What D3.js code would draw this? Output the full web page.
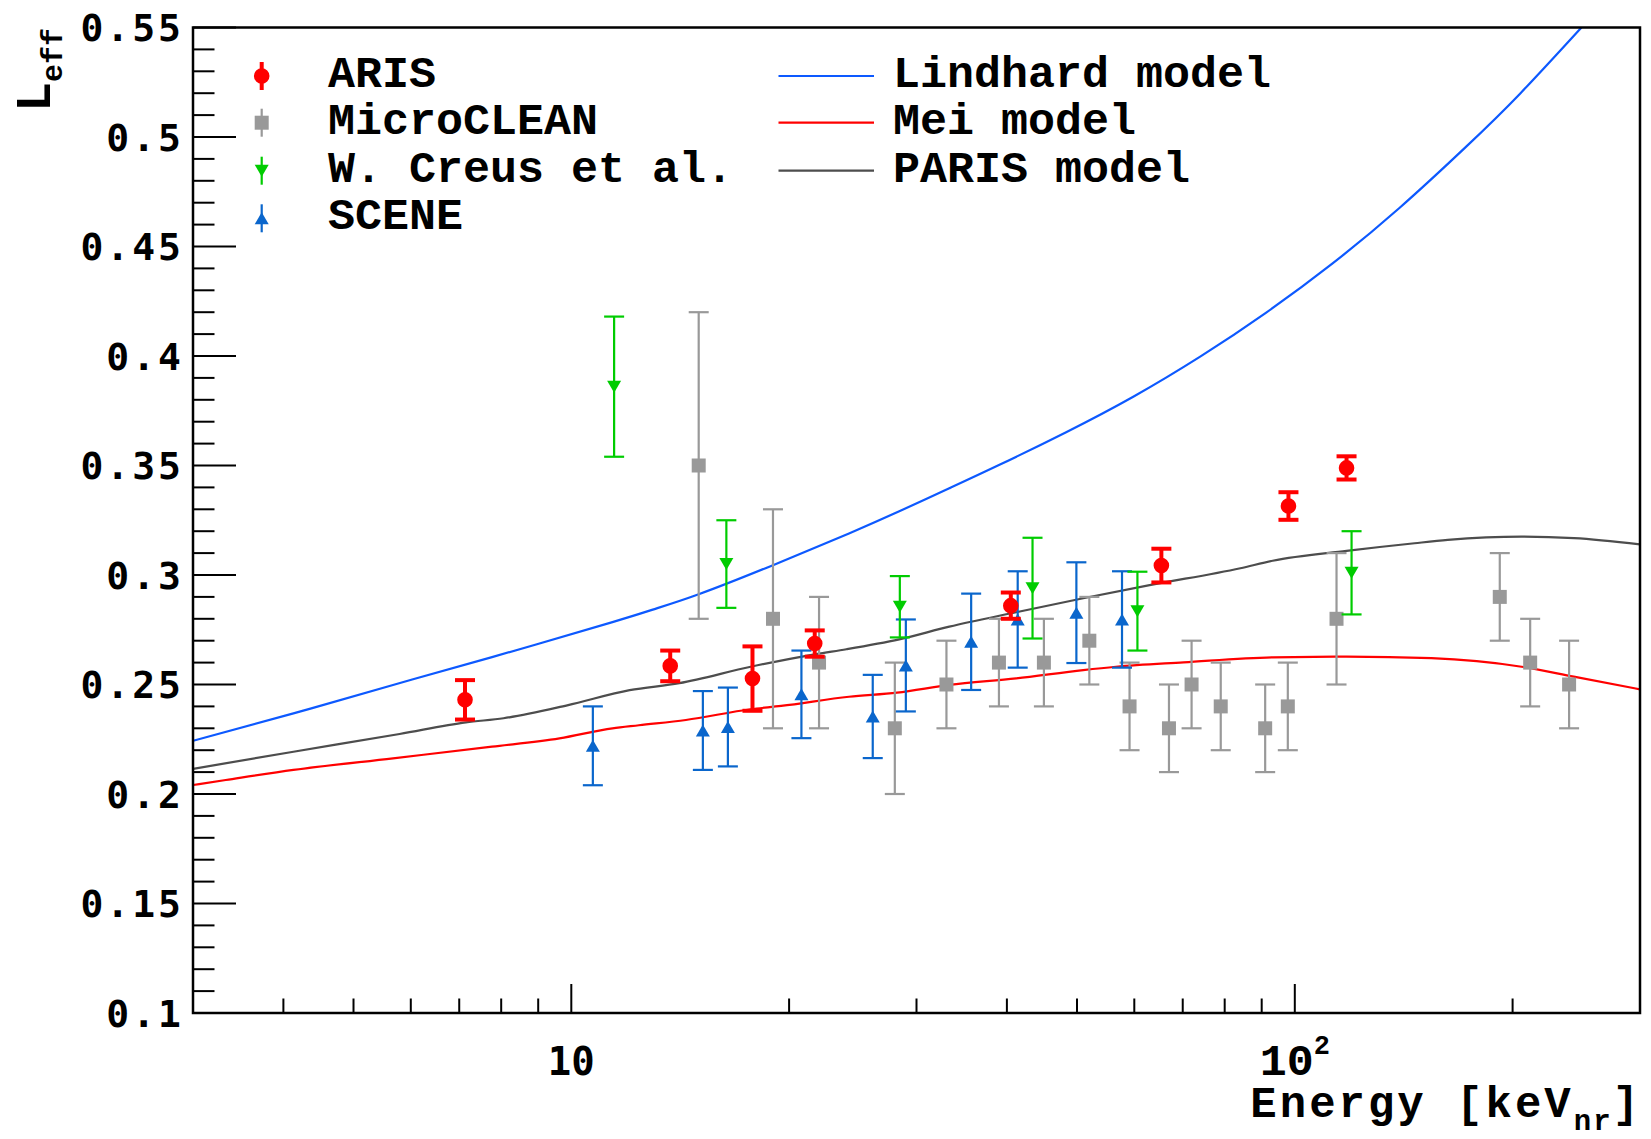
<!DOCTYPE html>
<html>
<head>
<meta charset="utf-8">
<script src="https://cdn.jsdelivr.net/npm/d3@7"></script>
<style>
  html, body { margin: 0; padding: 0; background: #fff; }
  svg { display: block; }
</style>
</head>
<body>
<svg id="chart" width="1651" height="1139"></svg>
<script>
// ---------------- measurements ----------------
// ARIS
const arisE   = [7.13, 13.7, 17.8, 21.7, 40.5, 65.4, 98.0, 117.9];
const arisL   = [0.243, 0.2585, 0.2527, 0.2687, 0.286, 0.3043, 0.3315, 0.3489];
const arisErr = [0.009, 0.007, 0.0147, 0.006, 0.006, 0.0077, 0.0063, 0.0053];

// MicroCLEAN
const mcE   = [15.0, 19.0, 22.0, 28.0, 33.0, 39.0, 45.0, 52.0, 59.1, 67.0, 72.0, 79.0, 91.0, 97.8, 114.2, 192, 211.5, 239.4];
const mcL   = [0.35, 0.28, 0.26, 0.23, 0.25, 0.26, 0.26, 0.27, 0.24, 0.23, 0.25, 0.24, 0.23, 0.24, 0.28, 0.29, 0.26, 0.25];
const mcErr = [0.07, 0.05, 0.03, 0.03, 0.02, 0.02, 0.02, 0.02, 0.02, 0.02, 0.02, 0.02, 0.02, 0.02, 0.03, 0.02, 0.02, 0.02];

// W. Creus et al.
const creusE   = [11.46, 16.38, 28.45, 43.4, 60.6, 119.8];
const creusL   = [0.386, 0.305, 0.2855, 0.294, 0.2835, 0.301];
const creusErr = [0.032, 0.02, 0.014, 0.023, 0.018, 0.019];

// SCENE
const sceneE   = [10.71, 15.2, 16.46, 20.8, 26.1, 29.0, 35.7, 41.4, 49.9, 57.7];
const sceneL   = [0.222, 0.229, 0.2306, 0.2455, 0.2354, 0.2587, 0.2695, 0.2797, 0.2828, 0.2797];
const sceneErr = [0.018, 0.018, 0.018, 0.02, 0.019, 0.021, 0.022, 0.022, 0.023, 0.022];

// ---------------- model curves ----------------
const lindhardE = [3, 4.13, 5.67, 7.77, 11.4, 12.96, 15.0, 19.0, 24.2, 28.4, 33.3, 39.0, 48.3, 59.8, 74.0, 91.2, 112.9, 139.5, 172.4, 204.8, 249];
const lindhardL = [0.2243, 0.2368, 0.2498, 0.2625, 0.2785, 0.2842, 0.2912, 0.3045, 0.319, 0.3291, 0.3396, 0.3502, 0.3652, 0.3814, 0.3997, 0.4197, 0.4424, 0.4676, 0.4955, 0.5198, 0.55];

const meiE = [3, 3.33, 4.13, 5.67, 7.77, 9.63, 11.4, 12.4, 14.4, 17.7, 19.5, 24.2, 28.2, 33.3, 41.2, 51.0, 56.6, 70.2, 93.2, 117.9, 154.5, 205.8, 243, 300];
const meiL = [0.2041, 0.2064, 0.211, 0.2163, 0.2216, 0.2254, 0.23, 0.2314, 0.2338, 0.2387, 0.2402, 0.2444, 0.2463, 0.2498, 0.2528, 0.2566, 0.2581, 0.2601, 0.2624, 0.2627, 0.262, 0.2581, 0.2536, 0.2478];

const parisE = [3, 4.13, 5.79, 7.15, 8.06, 9.87, 12.04, 14.1, 17.7, 21.8, 24.0, 28.4, 33.3, 41.2, 51.0, 63.0, 84.1, 93.2, 117.9, 146.4, 162.7, 205.8, 243.2, 300];
const parisL = [0.2115, 0.2193, 0.2274, 0.2327, 0.2346, 0.2405, 0.2474, 0.2506, 0.2581, 0.2639, 0.2661, 0.2706, 0.2764, 0.283, 0.2894, 0.2954, 0.3031, 0.3065, 0.311, 0.3145, 0.316, 0.3175, 0.3168, 0.314];

// ---------------- axes ticks ----------------
const yMajorTicks = [0.1, 0.15, 0.2, 0.25, 0.3, 0.35, 0.4, 0.45, 0.5, 0.55];
const yTickLabels = ["0.1", "0.15", "0.2", "0.25", "0.3", "0.35", "0.4", "0.45", "0.5", "0.55"];
const yMinorTicks = d3.range(10, 56, 1).map(v => v / 100);
const xMajorTicks = [10, 100];
const xMinorTicks = [4, 5, 6, 7, 8, 9, 20, 30, 40, 50, 60, 70, 80, 90, 200];

// ---------------- layout ----------------
const W = 1651, H = 1139;
const plot = { left: 193, right: 1640, top: 27.5, bottom: 1013 };
const courier = "'Liberation Mono', 'Courier New', monospace";
const sansMono = "'DejaVu Sans Mono', monospace";

const svg = d3.select("#chart");
svg.append("rect").attr("width", W).attr("height", H).attr("fill", "#fff");

const x = d3.scaleLog().domain([3, 300]).range([plot.left, plot.right]);
const y = d3.scaleLinear().domain([0.1, 0.55]).range([plot.bottom, plot.top]);

svg.append("defs").append("clipPath").attr("id", "plotClip")
  .append("rect")
  .attr("x", plot.left).attr("y", plot.top)
  .attr("width", plot.right - plot.left).attr("height", plot.bottom - plot.top);

// ---------------- model curves ----------------
const curves = [
  { E: lindhardE, L: lindhardL, color: "#0d59ff", curve: d3.curveNatural },
  { E: meiE, L: meiL, color: "#ff0000", curve: d3.curveMonotoneX },
  { E: parisE, L: parisL, color: "#4d4d4d", curve: d3.curveMonotoneX }
];
const curveG = svg.append("g").attr("clip-path", "url(#plotClip)");
curves.forEach(c => {
  const line = d3.line().x(d => x(d[0])).y(d => y(d[1])).curve(c.curve);
  curveG.append("path")
    .datum(c.E.map((e, i) => [e, c.L[i]]))
    .attr("d", line)
    .attr("fill", "none")
    .attr("stroke", c.color)
    .attr("stroke-width", 2.2);
});

// ---------------- data points with error bars ----------------
const markerPath = {
  circle: "M -7.8 0 A 7.8 7.8 0 1 0 7.8 0 A 7.8 7.8 0 1 0 -7.8 0 Z",
  square: "M -7 -7 L 7 -7 L 7 7 L -7 7 Z",
  triUp: "M -7 6 L 7 6 L 0 -6 Z",
  triDown: "M -7 -6 L 7 -6 L 0 6 Z"
};

const series = [
  { name: "MicroCLEAN", E: mcE, L: mcL, err: mcErr, color: "#999999", marker: "square", lw: 2.2, capW: 2.2 },
  { name: "SCENE", E: sceneE, L: sceneL, err: sceneErr, color: "#0a66cc", marker: "triUp", lw: 2.2, capW: 2.2 },
  { name: "W. Creus et al.", E: creusE, L: creusL, err: creusErr, color: "#00cc00", marker: "triDown", lw: 2.2, capW: 2.2 },
  { name: "ARIS", E: arisE, L: arisL, err: arisErr, color: "#ff0000", marker: "circle", lw: 4, capW: 4 }
];

const dataG = svg.append("g").attr("clip-path", "url(#plotClip)");
series.forEach(s => {
  const g = dataG.append("g");
  s.E.forEach((e, i) => {
    const cx = x(e), cy = y(s.L[i]);
    const yHi = y(s.L[i] + s.err[i]), yLo = y(s.L[i] - s.err[i]);
    g.append("line").attr("x1", cx).attr("x2", cx).attr("y1", yHi).attr("y2", yLo)
      .attr("stroke", s.color).attr("stroke-width", s.lw);
    [yHi, yLo].forEach(yy => {
      g.append("line").attr("x1", cx - 10).attr("x2", cx + 10).attr("y1", yy).attr("y2", yy)
        .attr("stroke", s.color).attr("stroke-width", s.capW);
    });
    g.append("path").attr("d", markerPath[s.marker])
      .attr("transform", `translate(${cx},${cy})`)
      .attr("fill", s.color);
  });
});

// ---------------- frame and ticks ----------------
const axG = svg.append("g").attr("stroke", "#000").attr("fill", "none");
axG.append("rect")
  .attr("x", plot.left).attr("y", plot.top)
  .attr("width", plot.right - plot.left).attr("height", plot.bottom - plot.top)
  .attr("stroke-width", 2.5);

yMinorTicks.forEach(v => {
  const major = yMajorTicks.some(m => Math.abs(m - v) < 1e-9);
  axG.append("line")
    .attr("x1", plot.left).attr("x2", plot.left + (major ? 43 : 21.5))
    .attr("y1", y(v)).attr("y2", y(v)).attr("stroke-width", 2);
});
xMinorTicks.forEach(v => {
  axG.append("line").attr("x1", x(v)).attr("x2", x(v))
    .attr("y1", plot.bottom).attr("y2", plot.bottom - 14.5).attr("stroke-width", 2);
});
xMajorTicks.forEach(v => {
  axG.append("line").attr("x1", x(v)).attr("x2", x(v))
    .attr("y1", plot.bottom).attr("y2", plot.bottom - 29).attr("stroke-width", 2);
});

// y tick labels
const labG = svg.append("g").attr("fill", "#000");
yMajorTicks.forEach((v, i) => {
  labG.append("text")
    .attr("x", 184).attr("y", y(v)).attr("dy", "0.36em")
    .attr("text-anchor", "end")
    .attr("font-family", sansMono).attr("font-weight", "bold")
    .attr("font-size", 38).attr("letter-spacing", 3)
    .text(yTickLabels[i]);
});

// x tick labels
labG.append("text")
  .attr("x", x(10)).attr("y", 1075).attr("text-anchor", "middle")
  .attr("font-family", sansMono).attr("font-weight", "bold").attr("font-size", 39)
  .text("10");
const t100 = labG.append("text")
  .attr("x", x(100)).attr("y", 1075).attr("text-anchor", "middle")
  .attr("font-family", courier).attr("font-weight", "bold").attr("font-size", 45);
t100.append("tspan").text("10");
t100.append("tspan").attr("font-size", 27).attr("dy", -21).text("2");

// axis titles
const xt = labG.append("text")
  .attr("x", 1642).attr("y", 1117).attr("text-anchor", "end")
  .attr("font-family", courier).attr("font-weight", "bold").attr("font-size", 44)
  .attr("letter-spacing", 3);
xt.append("tspan").text("Energy [keV");
xt.append("tspan").attr("font-size", 29).attr("letter-spacing", 2).attr("dy", 13).text("nr");
xt.append("tspan").attr("dy", -13).text("]");

const yt = labG.append("text")
  .attr("transform", "rotate(-90)")
  .attr("x", -28).attr("y", 50).attr("text-anchor", "end")
  .attr("font-family", courier).attr("font-weight", "bold").attr("font-size", 50);
yt.append("tspan").text("L");
yt.append("tspan").attr("font-size", 30).attr("dy", 12).text("eff");

// ---------------- legend ----------------
const legRows = [76, 122.7, 170.7, 218.3];
const legendPoints = [series[3], series[0], series[2], series[1]];
const legG = svg.append("g");
legendPoints.forEach((s, i) => {
  const cy = legRows[i], cx = 261.7;
  legG.append("line").attr("x1", cx).attr("x2", cx).attr("y1", cy - 14).attr("y2", cy + 14)
    .attr("stroke", s.color).attr("stroke-width", s.lw);
  legG.append("path").attr("d", markerPath[s.marker])
    .attr("transform", `translate(${cx},${cy})`).attr("fill", s.color);
  legG.append("text").attr("x", 328).attr("y", cy + 11)
    .attr("font-family", courier).attr("font-weight", "bold").attr("font-size", 45)
    .attr("fill", "#000").text(s.name);
});
const legendCurves = [
  { name: "Lindhard model", color: curves[0].color },
  { name: "Mei model", color: curves[1].color },
  { name: "PARIS model", color: curves[2].color }
];
legendCurves.forEach((c, i) => {
  const cy = legRows[i];
  legG.append("line").attr("x1", 778.5).attr("x2", 874).attr("y1", cy).attr("y2", cy)
    .attr("stroke", c.color).attr("stroke-width", 2.2);
  legG.append("text").attr("x", 893).attr("y", cy + 11)
    .attr("font-family", courier).attr("font-weight", "bold").attr("font-size", 45)
    .attr("fill", "#000").text(c.name);
});
</script>
</body>
</html>
